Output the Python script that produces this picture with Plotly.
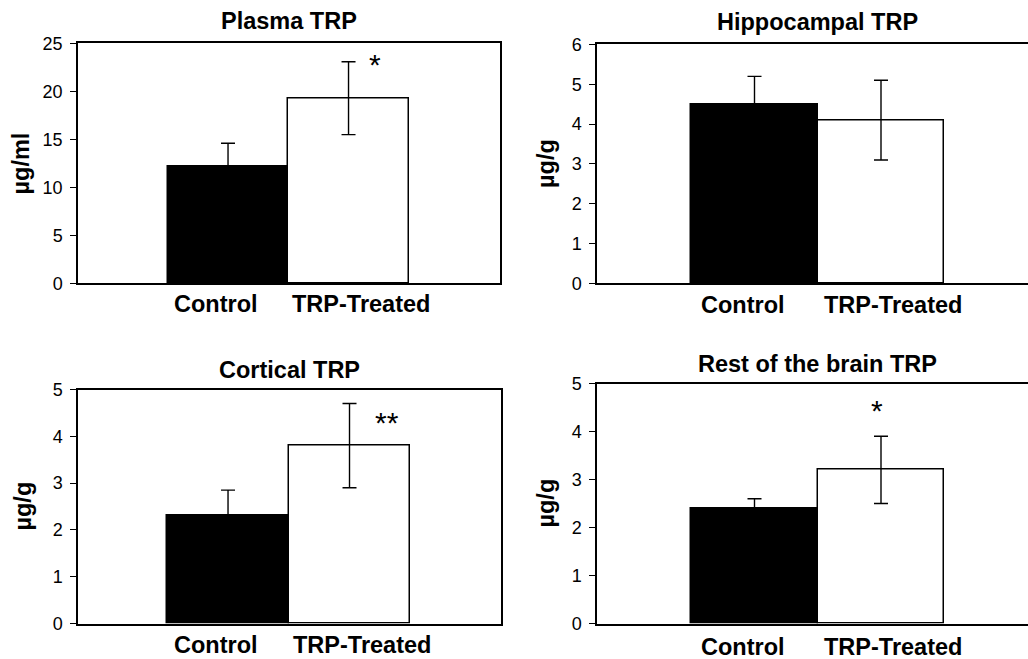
import plotly.graph_objects as go

W, H = 1028, 659

# ---- data ----
categories = ["Control", "TRP-Treated"]
titles = ["Plasma TRP", "Hippocampal TRP", "Cortical TRP", "Rest of the brain TRP"]
units = ["µg/ml", "µg/g", "µg/g", "µg/g"]
plasma_mean = [12.2, 19.3]
plasma_err = [2.4, 3.8]
hippo_mean = [4.5, 4.1]
hippo_err = [0.7, 1.0]
cortical_mean = [2.3, 3.8]
cortical_err = [0.55, 0.9]
rest_mean = [2.4, 3.2]
rest_err = [0.2, 0.7]
y_max = [25, 6, 5, 5]
y_step = [5, 1, 1, 1]
significance = [["", "*"], ["", ""], ["", "**"], ["", "*"]]

means = [plasma_mean, hippo_mean, cortical_mean, rest_mean]
errs = [plasma_err, hippo_err, cortical_err, rest_err]

# ---- layout (target pixels in the final picture) ----
# the photographed page is mapped as  picture_y = 0.9695 * page_y + 9.55  (measured),
# so vertical targets are converted back to page coordinates
V_SCALE, V_OFF = 0.9695, 9.55


def page_y(target):
    return (target - V_OFF) / V_SCALE


# (left, right, top, bottom) of each plot area; right panels run past the page edge
boxes = [(78, 500, 43, 283), (597, 1038, 44, 283), (78, 501, 389, 623), (597, 1038, 383, 623)]
xranges = [[-1.245, 2.257], [-1.245, 2.162], [-1.235, 2.247], [-1.245, 2.162]]
title_y = [21, 22, 369, 363]
label_y = [304, 305, 644, 646]
ytitle_x = [21, 546, 23, 546]
label_shift = [-12, 12]
# (dx right, dy down) of significance mark centre from the error-bar cap
sig_shift = [(26, 0), (0, 0), (37, 15), (-4, -28)]
is_left = [True, False, True, False]

FONT = "Liberation Sans, Arial, Helvetica, sans-serif"
LABEL_SIZE = 23.5
SIG_SIZE = 30

fig = go.Figure()
annotations = []
for i in range(4):
    l, r, t, b = boxes[i]
    pt, pb = page_y(t), page_y(b)
    xa = "xaxis" if i == 0 else f"xaxis{i+1}"
    ya = "yaxis" if i == 0 else f"yaxis{i+1}"
    xr = "x" if i == 0 else f"x{i+1}"
    yr = "y" if i == 0 else f"y{i+1}"
    fig.add_trace(go.Bar(
        x=[0, 1], y=means[i], width=[1, 1],
        marker=dict(color=["black", "white"], line=dict(color="black", width=1.5)),
        error_y=dict(type="data", array=errs[i], visible=True, color="black",
                     thickness=1.4, width=7),
        xaxis=xr, yaxis=yr, showlegend=False, hoverinfo="skip"))
    fig.layout[xa] = dict(domain=[l / W, min(r, W) / W], range=xranges[i], anchor=yr,
                          showline=True, linecolor="black", linewidth=1.5, mirror=True,
                          showticklabels=False, ticks="", showgrid=False, zeroline=False,
                          fixedrange=True)
    fig.layout[ya] = dict(domain=[1 - pb / H, 1 - pt / H], range=[0, y_max[i]],
                          dtick=y_step[i], tick0=0, anchor=xr,
                          showline=True, linecolor="black", linewidth=1.5,
                          mirror=is_left[i], ticks="outside", ticklen=6, tickwidth=1,
                          tickcolor="black", showgrid=False, zeroline=False,
                          ticklabelstandoff=4,
                          tickfont=dict(family=FONT, size=18, color="black"),
                          fixedrange=True)
    # panel title
    annotations.append(dict(text=f"<b>{titles[i]}</b>", xref="paper", yref="paper",
                            x=(l + r) / 2 / W, y=1 - page_y(title_y[i]) / H,
                            xanchor="center", yanchor="middle", showarrow=False,
                            font=dict(family=FONT, size=LABEL_SIZE, color="black")))
    # y-axis title
    annotations.append(dict(text=f"<b>{units[i]}</b>", xref="paper", yref="paper",
                            x=ytitle_x[i] / W, y=1 - (pt + pb) / 2 / H, textangle=-90,
                            xanchor="center", yanchor="middle", showarrow=False,
                            font=dict(family=FONT, size=LABEL_SIZE, color="black")))
    # category labels and significance marks
    for j, c in enumerate(categories):
        annotations.append(dict(text=f"<b>{c}</b>", xref=xr, yref="paper", x=j,
                                y=1 - page_y(label_y[i]) / H, xshift=label_shift[j],
                                xanchor="center", yanchor="middle", showarrow=False,
                                font=dict(family=FONT, size=LABEL_SIZE, color="black")))
        if significance[i][j]:
            annotations.append(dict(text=significance[i][j], xref=xr, yref=yr, x=j,
                                    y=means[i][j] + errs[i][j],
                                    xshift=sig_shift[i][0],
                                    yshift=-sig_shift[i][1] / V_SCALE - 0.1 * SIG_SIZE,
                                    xanchor="center", yanchor="middle", showarrow=False,
                                    font=dict(family=FONT, size=SIG_SIZE, color="black")))

fig.update_layout(width=W, height=H, margin=dict(l=0, r=0, t=0, b=0),
                  paper_bgcolor="white", plot_bgcolor="white",
                  annotations=annotations, bargap=0)
css_fix = (
    "var s=document.createElement('style');"
    "s.textContent='html,body{margin:0;padding:0;overflow:hidden;height:659px;width:1028px;}';"
    "document.head.appendChild(s);"
)
fig.write_html("out.html", config={"displayModeBar": False}, post_script=css_fix)
